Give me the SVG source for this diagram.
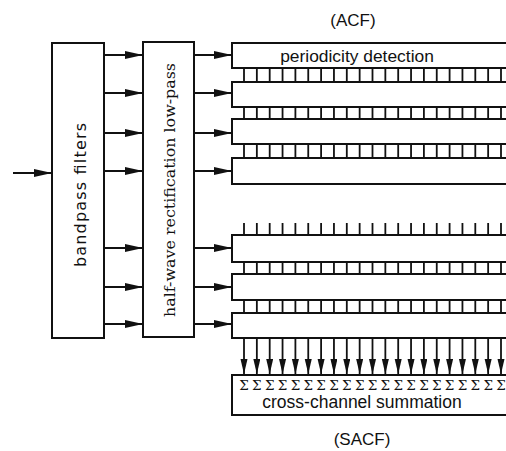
<svg xmlns="http://www.w3.org/2000/svg" width="506" height="451" viewBox="0 0 506 451">
<style>
.box{fill:#fff;stroke:#111;stroke-width:2}
.ln{stroke:#111;stroke-width:2;fill:none}
.tk{stroke:#111;stroke-width:1.8;fill:none}
.sans{font-family:"Liberation Sans",Arial,sans-serif;fill:#111}
.serif{font-family:"DejaVu Serif","Liberation Serif",serif;fill:#111}
</style>
<defs>
<marker id="ah" markerUnits="userSpaceOnUse" markerWidth="19" markerHeight="9" refX="18" refY="4" orient="auto"><path d="M0,0 L18,4 L0,8 z" fill="#111"/></marker>
<marker id="ad" markerUnits="userSpaceOnUse" markerWidth="16" markerHeight="8" refX="15" refY="3.5" orient="auto"><path d="M0,0 L15,3.5 L0,7 z" fill="#111"/></marker>
</defs>
<rect width="506" height="451" fill="#fff"/>
<text class="sans" x="353" y="26" font-size="17" text-anchor="middle">(ACF)</text>
<text class="sans" x="362" y="445" font-size="17" text-anchor="middle">(SACF)</text>
<g id="bandpass">
<rect class="box" x="52" y="43" width="52" height="295"/>
<text font-family="'DejaVu Sans',sans-serif" fill="#111" transform="translate(86,195) rotate(-90)" font-size="16" text-anchor="middle" textLength="144" lengthAdjust="spacing">bandpass filters</text>
</g>
<g id="hwr">
<rect class="box" x="143" y="42" width="51" height="295"/>
<text class="serif" transform="translate(175,190) rotate(-90)" font-size="15" text-anchor="middle" textLength="254" lengthAdjust="spacingAndGlyphs">half-wave rectification low-pass</text>
</g>
<g id="row1"><rect class="box" x="232" y="43" width="290" height="25"/>
<text class="sans" x="357" y="62" font-size="17.4" text-anchor="middle">periodicity detection</text></g>
<g id="row2"><rect class="box" x="232" y="82" width="290" height="25"/></g>
<g id="row3"><rect class="box" x="232" y="119" width="290" height="25"/></g>
<g id="row4"><rect class="box" x="232" y="158" width="290" height="26"/></g>
<g id="row5"><rect class="box" x="232" y="235" width="290" height="27"/></g>
<g id="row6"><rect class="box" x="232" y="274" width="290" height="26"/></g>
<g id="row7"><rect class="box" x="232" y="313" width="290" height="25"/></g>
<g id="summation">
<rect class="box" x="232" y="375" width="290" height="40"/>
<text class="serif" x="244 256.85 269.7 282.55 295.4 308.25 321.1 333.95 346.8 359.65 372.5 385.35 398.2 411.05 423.9 436.75 449.6 462.45 475.3 488.15 501" y="390" font-size="13.5" text-anchor="middle">ΣΣΣΣΣΣΣΣΣΣΣΣΣΣΣΣΣΣΣΣΣ</text>
<text class="sans" x="362" y="408" font-size="17.5" text-anchor="middle">cross-channel summation</text>
</g>
<g id="connectors">
<line class="ln" x1="13" y1="173" x2="52" y2="173" marker-end="url(#ah)"/>
<g class="ln" marker-end="url(#ah)">
<line x1="104" y1="55" x2="143" y2="55"/>
<line x1="104" y1="93" x2="143" y2="93"/>
<line x1="104" y1="133" x2="143" y2="133"/>
<line x1="104" y1="171" x2="143" y2="171"/>
<line x1="104" y1="248" x2="143" y2="248"/>
<line x1="104" y1="287" x2="143" y2="287"/>
<line x1="104" y1="324" x2="143" y2="324"/>
<line x1="194" y1="55" x2="232" y2="55"/>
<line x1="194" y1="93" x2="232" y2="93"/>
<line x1="194" y1="133" x2="232" y2="133"/>
<line x1="194" y1="171" x2="232" y2="171"/>
<line x1="194" y1="248" x2="232" y2="248"/>
<line x1="194" y1="287" x2="232" y2="287"/>
<line x1="194" y1="324" x2="232" y2="324"/>
</g>
<path class="tk" d="M244 68V82M256.85 68V82M269.7 68V82M282.55 68V82M295.4 68V82M308.25 68V82M321.1 68V82M333.95 68V82M346.8 68V82M359.65 68V82M372.5 68V82M385.35 68V82M398.2 68V82M411.05 68V82M423.9 68V82M436.75 68V82M449.6 68V82M462.45 68V82M475.3 68V82M488.15 68V82M501 68V82"/>
<path class="tk" d="M244 107V119M256.85 107V119M269.7 107V119M282.55 107V119M295.4 107V119M308.25 107V119M321.1 107V119M333.95 107V119M346.8 107V119M359.65 107V119M372.5 107V119M385.35 107V119M398.2 107V119M411.05 107V119M423.9 107V119M436.75 107V119M449.6 107V119M462.45 107V119M475.3 107V119M488.15 107V119M501 107V119"/>
<path class="tk" d="M244 144V158M256.85 144V158M269.7 144V158M282.55 144V158M295.4 144V158M308.25 144V158M321.1 144V158M333.95 144V158M346.8 144V158M359.65 144V158M372.5 144V158M385.35 144V158M398.2 144V158M411.05 144V158M423.9 144V158M436.75 144V158M449.6 144V158M462.45 144V158M475.3 144V158M488.15 144V158M501 144V158"/>
<path class="tk" d="M244 223V235M256.85 223V235M269.7 223V235M282.55 223V235M295.4 223V235M308.25 223V235M321.1 223V235M333.95 223V235M346.8 223V235M359.65 223V235M372.5 223V235M385.35 223V235M398.2 223V235M411.05 223V235M423.9 223V235M436.75 223V235M449.6 223V235M462.45 223V235M475.3 223V235M488.15 223V235M501 223V235"/>
<path class="tk" d="M244 262V274M256.85 262V274M269.7 262V274M282.55 262V274M295.4 262V274M308.25 262V274M321.1 262V274M333.95 262V274M346.8 262V274M359.65 262V274M372.5 262V274M385.35 262V274M398.2 262V274M411.05 262V274M423.9 262V274M436.75 262V274M449.6 262V274M462.45 262V274M475.3 262V274M488.15 262V274M501 262V274"/>
<path class="tk" d="M244 300V313M256.85 300V313M269.7 300V313M282.55 300V313M295.4 300V313M308.25 300V313M321.1 300V313M333.95 300V313M346.8 300V313M359.65 300V313M372.5 300V313M385.35 300V313M398.2 300V313M411.05 300V313M423.9 300V313M436.75 300V313M449.6 300V313M462.45 300V313M475.3 300V313M488.15 300V313M501 300V313"/>
<g class="tk" marker-end="url(#ad)">
<line x1="244" y1="338" x2="244" y2="374"/><line x1="256.85" y1="338" x2="256.85" y2="374"/><line x1="269.7" y1="338" x2="269.7" y2="374"/><line x1="282.55" y1="338" x2="282.55" y2="374"/><line x1="295.4" y1="338" x2="295.4" y2="374"/><line x1="308.25" y1="338" x2="308.25" y2="374"/><line x1="321.1" y1="338" x2="321.1" y2="374"/><line x1="333.95" y1="338" x2="333.95" y2="374"/><line x1="346.8" y1="338" x2="346.8" y2="374"/><line x1="359.65" y1="338" x2="359.65" y2="374"/><line x1="372.5" y1="338" x2="372.5" y2="374"/><line x1="385.35" y1="338" x2="385.35" y2="374"/><line x1="398.2" y1="338" x2="398.2" y2="374"/><line x1="411.05" y1="338" x2="411.05" y2="374"/><line x1="423.9" y1="338" x2="423.9" y2="374"/><line x1="436.75" y1="338" x2="436.75" y2="374"/><line x1="449.6" y1="338" x2="449.6" y2="374"/><line x1="462.45" y1="338" x2="462.45" y2="374"/><line x1="475.3" y1="338" x2="475.3" y2="374"/><line x1="488.15" y1="338" x2="488.15" y2="374"/><line x1="501" y1="338" x2="501" y2="374"/>
</g>
</g>
</svg>
